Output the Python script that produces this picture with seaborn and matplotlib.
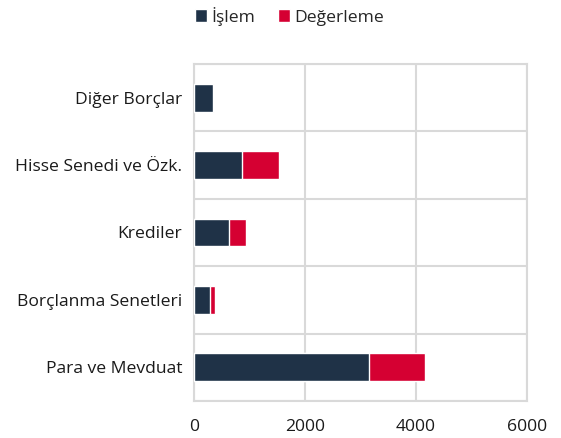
import matplotlib
matplotlib.use("Agg")
import matplotlib.pyplot as plt
from matplotlib.patches import Patch
import seaborn as sns
import numpy as np

categories = ["Diğer Borçlar", "Hisse Senedi ve Özk.", "Krediler",
              "Borçlanma Senetleri", "Para ve Mevduat"]
islem = [340, 860, 625, 280, 3150]
degerleme = [20, 680, 315, 100, 1020]
series_names = ["İşlem", "Değerleme"]
xticks = [0, 2000, 4000, 6000]

navy = "#1f3247"
red = "#d50032"
grid = "#d9d9d9"

sns.set_theme(style="white")
plt.rcParams["font.family"] = ["Open Sans", "DejaVu Sans"]

fig = plt.figure(figsize=(5.61, 4.38), dpi=100)
ax = fig.add_axes([194/561, 1-401/438, (527-194)/561, (401-64)/438])

total = [a + b for a, b in zip(islem, degerleme)]
sns.barplot(x=total, y=categories, color=red, saturation=1, width=0.41,
            orient="h", ax=ax, zorder=3)
sns.barplot(x=islem, y=categories, color=navy, saturation=1, width=0.41,
            orient="h", ax=ax, zorder=4)

fs = 12.6
ax.set_xlim(0, 6000)
ax.set_ylim(len(categories) - 0.5, -0.5)
ax.set_xticks(xticks)
ax.set_xticklabels([str(t) for t in xticks], fontsize=fs, color="#1a1a1a")
ax.tick_params(axis="x", length=0, pad=13)
ax.tick_params(axis="y", which="major", length=0, pad=8.5, labelsize=fs,
               labelcolor="#1a1a1a")
ax.set_yticks(np.arange(-0.5, len(categories), 1), minor=True)
ax.tick_params(axis="y", which="minor", length=6, width=1.5, color=grid)
ax.set_xlabel("")
ax.set_ylabel("")
ax.grid(axis="x", which="major", color=grid, linewidth=1.5, zorder=0)
ax.grid(axis="y", which="minor", color=grid, linewidth=1.5, zorder=0)
ax.grid(axis="y", which="major", visible=False)
for s in ax.spines.values():
    s.set_color(grid)
    s.set_linewidth(1.5)

handles = [Patch(facecolor=navy, label=series_names[0]),
           Patch(facecolor=red, label=series_names[1])]
fig.legend(handles=handles, loc="center", bbox_to_anchor=(0.516, 1-16/438),
           ncol=2, frameon=False, fontsize=fs, handlelength=0.7,
           handleheight=0.7, handletextpad=0.25, columnspacing=1.3)

fig.savefig("out.png", dpi=100)
